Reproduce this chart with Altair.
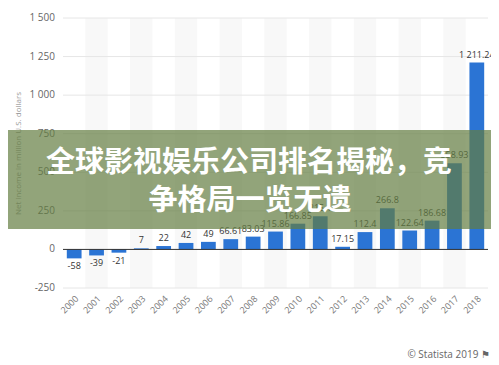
import altair as alt
import pandas as pd

years = [str(y) for y in range(2000, 2019)]
values = [-58, -39, -21, 7, 22, 42, 49, 66.61, 83.03, 115.86, 166.85, 215.1,
          17.15, 112.4, 266.8, 122.64, 186.68, 558.93, 1211.24]
y_ticks = [-250, 0, 250, 500, 750, 1000, 1250, 1500]
y_tick_labels = ["-250", "0", "250", "500", "750", "1 000", "1 250", "1 500"]
title_lines = ["全球影视娱乐公司排名揭秘，竞", "争格局一览无遗"]
y_title = "Net income in million U.S. dollars"
credit = "© Statista 2019 ⚑"

labels = [f"{v:,}".replace(",", " ") for v in values]
df = pd.DataFrame({"year": years, "value": values, "label": labels})
shade = pd.DataFrame({"year": years[1::2], "top": [1500] * 9, "bot": [-250] * 9})
ticks_df = pd.DataFrame({"value": y_ticks, "lab": y_tick_labels})

W, H = 425, 270
x_scale = alt.Scale(domain=years, paddingInner=0, paddingOuter=0)
y_scale = alt.Scale(domain=[-250, 1500], nice=False, zero=False)

x_enc = alt.X("year:N", scale=x_scale, sort=years,
              axis=alt.Axis(title=None, labelAngle=-45, labelColor="#777777",
                            labelFontSize=9, labelFont="Open Sans",
                            domain=False, ticks=False, labelPadding=6))

y_axis = alt.Axis(title=y_title, titleColor="#999999",
                  titleFontSize=8, titleFontWeight="normal",
                  titleFont="Open Sans", titlePadding=41,
                  labels=False, domain=False, ticks=False, grid=False)

bands = alt.Chart(shade).mark_bar(color="#f8f8f8", width=alt.RelativeBandSize(1)).encode(
    x=x_enc,
    y=alt.Y("top:Q", scale=y_scale, axis=y_axis),
    y2="bot:Q",
)

grid = alt.Chart(ticks_df).mark_rule(color="#e6e6e6", strokeWidth=1).encode(
    y=alt.Y("value:Q", scale=y_scale),
)

tick_text = alt.Chart(ticks_df).mark_text(
    align="right", baseline="middle", fontSize=10, color="#666666", font="Open Sans"
).encode(x=alt.value(-8), y=alt.Y("value:Q", scale=y_scale), text="lab:N")

bars = alt.Chart(df).mark_bar(color="#2b74d4", width=alt.RelativeBandSize(0.66)).encode(
    x=alt.X("year:N", scale=x_scale, sort=years),
    y=alt.Y("value:Q", scale=y_scale),
    y2=alt.datum(0),
)

zero = alt.Chart(pd.DataFrame({"value": [0]})).mark_rule(color="#333333", strokeWidth=1).encode(
    y=alt.Y("value:Q", scale=y_scale),
)

pos_labels = alt.Chart(df).transform_filter("datum.value >= 0").mark_text(
    baseline="bottom", dy=-3, fontSize=9, color="#333333", font="Open Sans"
).encode(x=alt.X("year:N", scale=x_scale, sort=years),
         y=alt.Y("value:Q", scale=y_scale), text="label:N")

neg_labels = alt.Chart(df).transform_filter("datum.value < 0").mark_text(
    baseline="top", dy=4, fontSize=9, color="#333333", font="Open Sans"
).encode(x=alt.X("year:N", scale=x_scale, sort=years),
         y=alt.Y("value:Q", scale=y_scale), text="label:N")

banner = alt.Chart(pd.DataFrame({"a": [0]})).mark_rect(
    color="rgb(100,125,65)", opacity=0.7
).encode(x=alt.value(-63), x2=alt.value(W + 20), y=alt.value(112), y2=alt.value(211))

t1 = alt.Chart(pd.DataFrame({"t": [title_lines[0]]})).mark_text(
    font="Noto Sans CJK SC", fontWeight="bold", fontSize=29, color="white",
    align="center", baseline="middle"
).encode(x=alt.value(186), y=alt.value(145), text="t:N")

t2 = alt.Chart(pd.DataFrame({"t": [title_lines[1]]})).mark_text(
    font="Noto Sans CJK SC", fontWeight="bold", fontSize=29, color="white",
    align="center", baseline="middle"
).encode(x=alt.value(187), y=alt.value(183), text="t:N")

cred = alt.Chart(pd.DataFrame({"t": [credit]})).mark_text(
    font="Open Sans", fontSize=10, color="#666666", align="right", baseline="middle"
).encode(x=alt.value(W + 2), y=alt.value(337), text="t:N")

chart = alt.layer(bands, grid, tick_text, bars, zero, pos_labels, neg_labels,
                  banner, t1, t2, cred).properties(
    width=W, height=H,
    autosize=alt.AutoSizeParams(type="none"),
    padding={"left": 55, "top": 10, "right": 3, "bottom": 74},
).configure_view(stroke=None)

chart.save("out.html", embed_options={"renderer": "svg", "actions": False})
